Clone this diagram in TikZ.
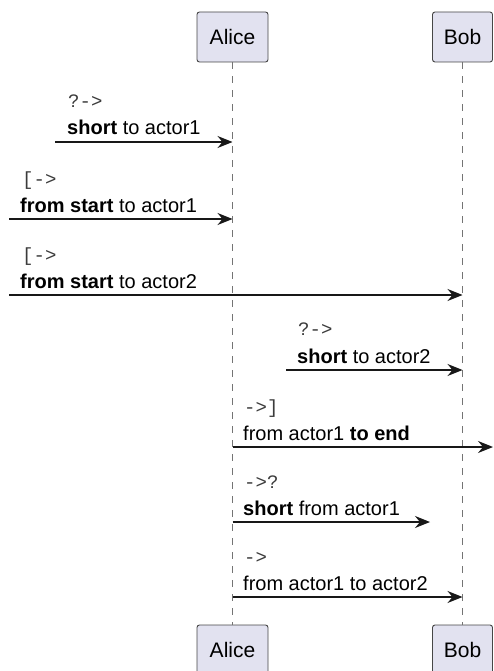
\documentclass[tikz,border=0pt]{standalone}
\usepackage{fontspec}
\setmainfont{Liberation Sans}
\setmonofont{Liberation Mono}
\usetikzlibrary{arrows.meta}
\definecolor{partfill}{HTML}{E2E2F0}
\definecolor{umlline}{HTML}{181818}

\begin{document}
\begin{tikzpicture}[
      x=1pt, y=-1pt,
      >={Stealth[length=15pt, width=12pt, inset=5pt]},
      part/.style={draw=umlline!80, fill=partfill, rounded corners=2.5pt, line width=0.9pt, minimum height=50pt, inner sep=0pt, font=\fontsize{21}{25}\selectfont},
      life/.style={draw=umlline!60, line width=0.8pt, dash pattern=on 7pt off 7pt},
      msg/.style={->, draw=umlline, line width=1.3pt},
      kind/.style={anchor=base west, inner sep=0pt, text=umlline!85, font=\ttfamily\fontsize{19}{23}\selectfont},
      txt/.style={anchor=base west, inner sep=0pt, font=\fontsize{20}{24}\selectfont}
    ]
    \useasboundingbox (0,0) rectangle (493,671);

    \node[part, minimum width=71pt] (alice) at (232.5,37) {Alice};
    \node[part, minimum width=60pt] (bob) at (462.5,37) {Bob};
    \node[part, minimum width=71pt] (alicefoot) at (232.5,650) {Alice};
    \node[part, minimum width=60pt] (bobfoot) at (462.5,650) {Bob};

    \draw[life] (alice) -- (alicefoot);
    \draw[life] (bob) -- (bobfoot);

    % free ends of the messages
    \coordinate (shortin1) at (55,142);
    \coordinate (startin1) at (9,219);
    \coordinate (startin2) at (9,295);
    \coordinate (shortin2) at (286,370);
    \coordinate (endout) at (493,447);
    \coordinate (shortout) at (430,522);
    \coordinate (plain) at (0,597);

    \node[kind] (kind1) at (68,108) {?->};
    \node[txt] (text1) at (67,135) {\textbf{short} to actor1};
    \draw[msg] (shortin1) -- (shortin1 -| alice);

    \node[kind] (kind2) at (22,185) {[->};
    \node[txt] (text2) at (20,212) {\textbf{from start} to actor1};
    \draw[msg] (startin1) -- (startin1 -| alice);

    \node[kind] (kind3) at (22,261) {[->};
    \node[txt] (text3) at (20,288) {\textbf{from start} to actor2};
    \draw[msg] (startin2) -- (startin2 -| bob);

    \node[kind] (kind4) at (298,335) {?->};
    \node[txt] (text4) at (297,363) {\textbf{short} to actor2};
    \draw[msg] (shortin2) -- (shortin2 -| bob);

    \node[kind] (kind5) at (244,413) {->]};
    \node[txt] (text5) at (243,440) {from actor1 \textbf{to end}};
    \draw[msg] (endout -| alice) -- (endout);

    \node[kind] (kind6) at (244,488) {->?};
    \node[txt] (text6) at (243,515) {\textbf{short} from actor1};
    \draw[msg] (shortout -| alice) -- (shortout);

    \node[kind] (kind7) at (244,563) {->};
    \node[txt] (text7) at (243,590) {from actor1 to actor2};
    \draw[msg] (plain -| alice) -- (plain -| bob);

  \end{tikzpicture}
\end{document}
